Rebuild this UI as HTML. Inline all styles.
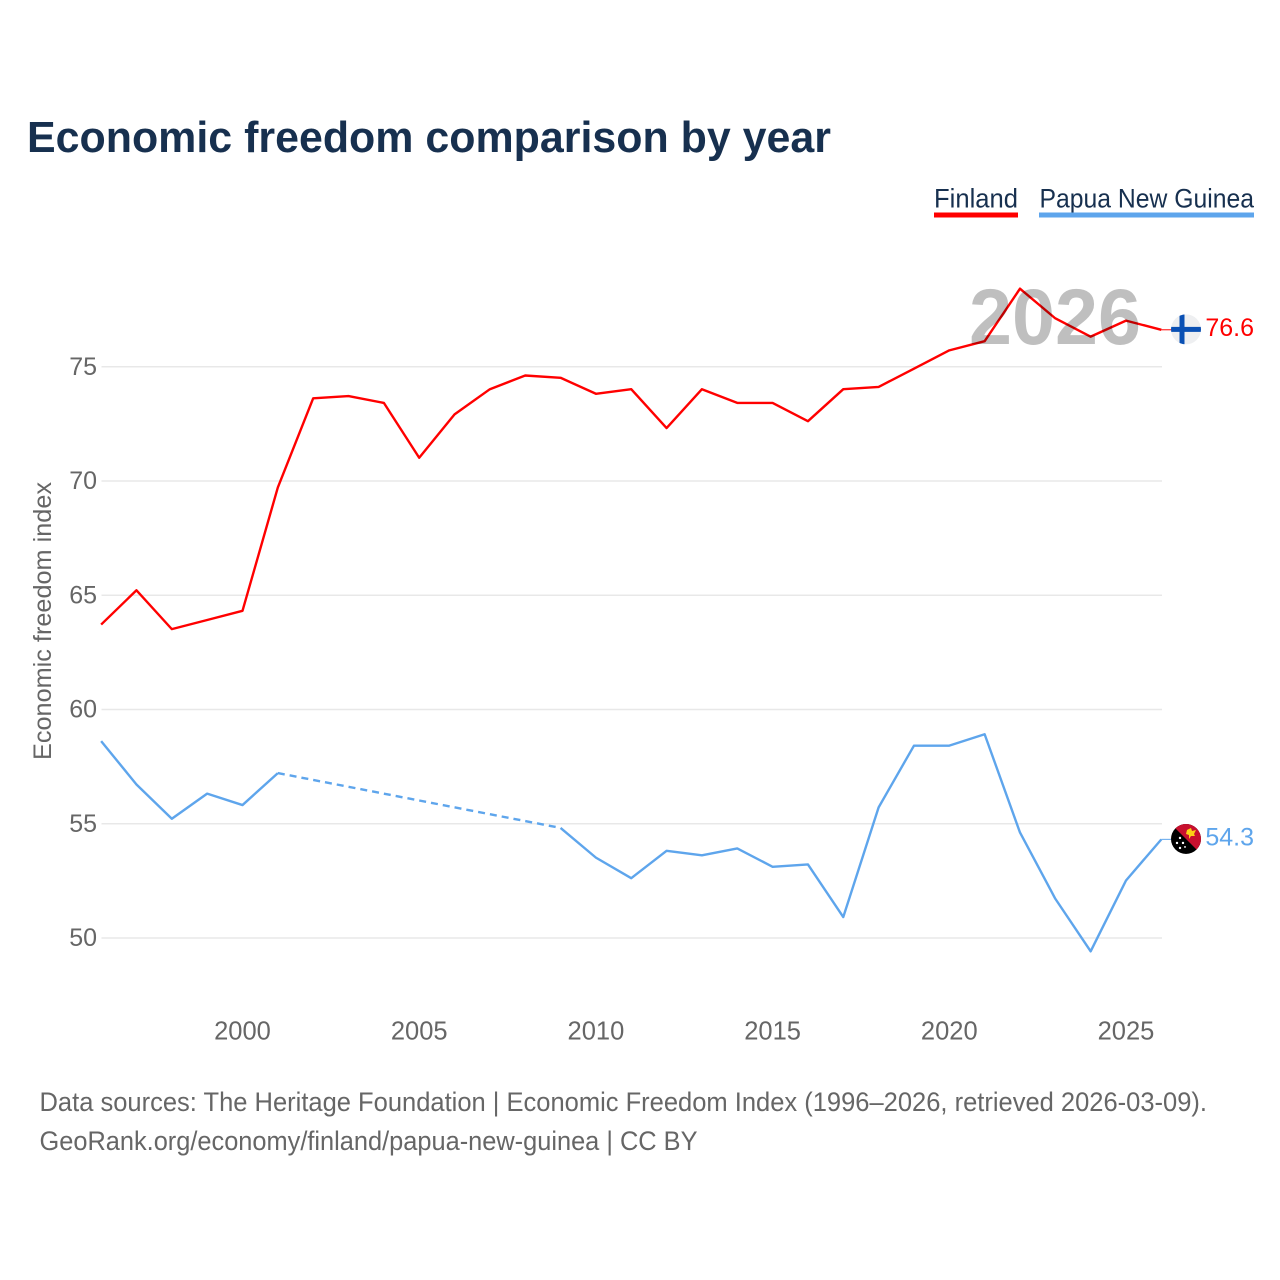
<!DOCTYPE html>
<html lang="en">
<head>
<meta charset="utf-8">
<title>Economic freedom comparison by year</title>
<style>
html,body{margin:0;padding:0;background:#fff;}
svg{display:block;}
text{font-family:"Liberation Sans",sans-serif;}
</style>
</head>
<body>
<svg id="chart" xmlns="http://www.w3.org/2000/svg" width="1280" height="1280" viewBox="0 0 1280 1280">
  <rect width="1280" height="1280" fill="#fff"/>
  <text x="27" y="152" font-size="44" font-weight="700" fill="#17304f" textLength="804" lengthAdjust="spacingAndGlyphs">Economic freedom comparison by year</text>

  <g>
    <g>
      <text x="934" y="207.500" font-size="26.500" fill="#17304f" textLength="84" lengthAdjust="spacingAndGlyphs">Finland</text>
      <rect x="934" y="212.500" width="84" height="5" fill="#ff0000"/>
    </g>
    <g>
      <text x="1039.500" y="207.500" font-size="26.500" fill="#17304f" textLength="214.500" lengthAdjust="spacingAndGlyphs">Papua New Guinea</text>
      <rect x="1039" y="212.500" width="215" height="5" fill="#5ea5ec"/>
    </g>
  </g>

  <g id="grid"></g>
  <g id="yticks"></g>
  <g id="xticks"></g>
  <text transform="translate(51,760) rotate(-90)" font-size="25" fill="#666" textLength="278" lengthAdjust="spacingAndGlyphs">Economic freedom index</text>

  <g id="series"></g>

  <text id="year-label" x="969" y="344" font-size="79" font-weight="700" fill="#000" fill-opacity="0.25" textLength="172" lengthAdjust="spacingAndGlyphs">2026</text>

  <defs>
    <clipPath id="clip-fi"><circle cx="0" cy="0" r="15"/></clipPath>
    <clipPath id="clip-pg"><circle cx="0" cy="0" r="15"/></clipPath>
  </defs>

  <g id="flag-fi">
    <g clip-path="url(#clip-fi)">
      <rect x="-15" y="-15" width="30" height="30" fill="#eeeff1"/>
      <rect x="-15" y="-2.500" width="30" height="5" fill="#0a50b4"/>
      <rect x="-6.500" y="-15" width="5" height="30" fill="#0a50b4"/>
    </g>
  </g>
  <g id="flag-pg">
    <g clip-path="url(#clip-pg)">
      <rect x="-15" y="-15" width="30" height="30" fill="#000"/>
      <polygon points="-15,-15 15,-15 15,15" fill="#c8102e"/>
      <polygon points="1,-9 5,-11 6,-8 10,-9 8,-5 9,-3 5,-3 3,0 3,-4 0,-5" fill="#fcd116"/>
      <circle cx="-6" cy="-1" r="1.200" fill="#fff"/>
      <circle cx="-9" cy="4" r="1.200" fill="#fff"/>
      <circle cx="-3" cy="4" r="1.200" fill="#fff"/>
      <circle cx="-6" cy="9" r="1.200" fill="#fff"/>
      <circle cx="-1" cy="8" r="0.900" fill="#fff"/>
    </g>
  </g>
  <g id="end-labels"></g>

  <g>
    <text x="39.500" y="1111" font-size="26.500" fill="#666" textLength="1167.500" lengthAdjust="spacingAndGlyphs">Data sources: The Heritage Foundation | Economic Freedom Index (1996–2026, retrieved 2026-03-09).</text>
    <text x="39.500" y="1150" font-size="26.500" fill="#666" textLength="658" lengthAdjust="spacingAndGlyphs">GeoRank.org/economy/finland/papua-new-guinea | CC BY</text>
  </g>
</svg>
<script>
const years = [1996,1997,1998,1999,2000,2001,2002,2003,2004,2005,2006,2007,2008,2009,2010,2011,2012,2013,2014,2015,2016,2017,2018,2019,2020,2021,2022,2023,2024,2025,2026];
const finlandValues = [63.7,65.2,63.5,63.9,64.3,69.7,73.6,73.7,73.4,71.0,72.9,74.0,74.6,74.5,73.8,74.0,72.3,74.0,73.4,73.4,72.6,74.0,74.1,74.9,75.7,76.1,78.4,77.1,76.3,77.0,76.6];
const papuaValues = [58.6,56.7,55.2,56.3,55.8,57.2,null,null,null,null,null,null,null,54.8,53.5,52.6,53.8,53.6,53.9,53.1,53.2,50.9,55.7,58.4,58.4,58.9,54.6,51.7,49.4,52.5,54.3];
const yTickValues = [50,55,60,65,70,75];
const xTickValues = [2000,2005,2010,2015,2020,2025];

const NS = 'http://www.w3.org/2000/svg';
function xScale(year){ return 242.5 + (year - 2000) * 35.34; }
function yScale(v){ return 937.6 - (v - 50) * 22.85; }

function make(tag, parent, attrs){
  const el = document.createElementNS(NS, tag);
  for (const k in attrs) el.setAttribute(k, attrs[k]);
  parent.appendChild(el);
  return el;
}

const grid = document.getElementById('grid');
const yticks = document.getElementById('yticks');
yTickValues.forEach(function(v){
  const line = make('line', grid, {x1:101.5, x2:1162, y1:yScale(v) + 0.4, y2:yScale(v) + 0.4, stroke:'#e8e8e8', 'stroke-width':1.5});
  
  
  const t = make('text', yticks, {x:97, y:yScale(v) + 8.5, 'font-size':25, fill:'#666', 'text-anchor':'end'});
  t.textContent = String(v);
  
  
});

const xticks = document.getElementById('xticks');
xTickValues.forEach(function(yr){
  const t = make('text', xticks, {x:xScale(yr), y:1039.5, 'font-size':25.5, fill:'#666', 'text-anchor':'middle'});
  t.textContent = String(yr);
  
  
});

function drawSeries(values, color, slug){
  const g = document.getElementById('series');
  let solid = [];
  let lastPoint = null;
  let pendingGap = false;
  function flush(){
    if (solid.length > 1){
      const p = make('polyline', g, {points:solid.join(' '), fill:'none', stroke:color, 'stroke-width':2.4, 'stroke-linejoin':'round'});
      
      
    }
    solid = [];
  }
  values.forEach(function(v, i){
    if (v === null){
      if (!pendingGap) flush();
      pendingGap = true;
      return;
    }
    const px = xScale(years[i]);
    const py = yScale(v);
    if (pendingGap && lastPoint){
      const d = make('line', g, {x1:lastPoint[0], y1:lastPoint[1], x2:px, y2:py, stroke:color, 'stroke-width':2.4, 'stroke-dasharray':'7 5'});
      
      
    }
    pendingGap = false;
    solid.push(px + ',' + py);
    lastPoint = [px, py];
  });
  flush();
}
drawSeries(finlandValues, '#ff0000', 'finland');
drawSeries(papuaValues, '#5ea5ec', 'papua-new-guinea');

function endMark(values, color, flagId, slug){
  const v = values[values.length - 1];
  const py = yScale(v);
  const lead = make('line', document.getElementById('series'), {x1:xScale(years[years.length - 1]), x2:1171, y1:py, y2:py, stroke:color, 'stroke-width':1});
  
  
  document.getElementById(flagId).setAttribute('transform', 'translate(1186,' + (py - 0.4) + ')');
  const t = make('text', document.getElementById('end-labels'), {x:1254, y:py + 6, 'font-size':25, fill:color, 'text-anchor':'end'});
  t.textContent = v.toFixed(1);
  
  
}
endMark(finlandValues, '#ff0000', 'flag-fi', 'finland');
endMark(papuaValues, '#5ea5ec', 'flag-pg', 'papua-new-guinea');
</script>
</body>
</html>
